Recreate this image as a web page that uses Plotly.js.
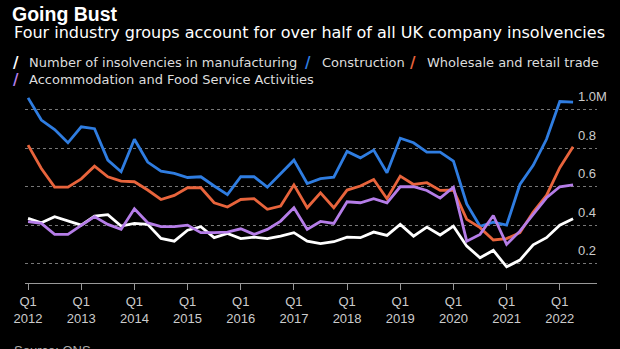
<!DOCTYPE html>
<html>
<head>
<meta charset="utf-8">
<script src="https://cdn.plot.ly/plotly-3.0.1.min.js"></script>
<style>html,body{margin:0;padding:0;background:#000;}#chart{width:620px;height:349px;}</style>
</head>
<body>
<div id="chart"></div>
<script>
const years = [2012,2013,2014,2015,2016,2017,2018,2019,2020,2021,2022];
const quarters = [];
years.forEach(y => ['Q1','Q2','Q3','Q4'].forEach(q => quarters.push(y + ' ' + q)));
quarters.splice(42); // 2012 Q1 .. 2022 Q2

const manufacturing = [0.435,0.412,0.444,0.421,0.400,0.447,0.454,0.395,0.409,0.404,0.331,
  0.317,0.374,0.392,0.335,0.357,0.330,0.338,0.330,0.343,0.361,0.317,
  0.304,0.314,0.338,0.335,0.364,0.347,0.404,0.343,0.390,0.349,0.395,
  0.291,0.231,0.269,0.184,0.219,0.298,0.335,0.400,0.433];
const construction = [1.060,0.945,0.896,0.827,0.910,0.900,0.737,0.677,0.845,0.727,0.680,
  0.668,0.647,0.651,0.603,0.558,0.651,0.651,0.597,0.667,0.737,0.616,
  0.641,0.649,0.782,0.749,0.789,0.672,0.851,0.827,0.779,0.779,0.732,
  0.510,0.394,0.415,0.400,0.611,0.710,0.845,1.041,1.038];
const wholesale = [0.815,0.694,0.597,0.597,0.640,0.706,0.651,0.628,0.625,0.582,0.533,
  0.554,0.594,0.594,0.516,0.494,0.533,0.537,0.482,0.499,0.609,0.490,
  0.568,0.490,0.582,0.603,0.637,0.537,0.654,0.611,0.620,0.580,0.582,
  0.430,0.387,0.323,0.330,0.361,0.468,0.554,0.698,0.806];
const accommodation = [0.418,0.409,0.352,0.352,0.399,0.444,0.404,0.378,0.485,0.412,0.392,
  0.392,0.400,0.361,0.361,0.364,0.381,0.352,0.378,0.421,0.490,0.378,
  0.419,0.409,0.521,0.516,0.537,0.516,0.599,0.599,0.580,0.540,0.597,
  0.317,0.352,0.450,0.300,0.369,0.456,0.542,0.599,0.609];

const seriesNames = ['Number of insolvencies in manufacturing','Construction','Wholesale and retail trade','Accommodation and Food Service Activities'];
const seriesColors = ['#ffffff','#2f7de1','#e8643c','#b57de8'];
const seriesValues = [manufacturing, construction, wholesale, accommodation];

const yTickVals = [0.2,0.4,0.6,0.8,1.0];
const yTickText = ['0.2','0.4','0.6','0.8','1.0M'];
const xTickVals = quarters.filter(q => q.endsWith('Q1'));
const xTickText = xTickVals.map(q => 'Q1<br>' + q.slice(0,4));

const traces = seriesValues.map((vals, k) => ({
  type: 'scatter', mode: 'lines', x: quarters, y: vals, name: seriesNames[k],
  line: {color: seriesColors[k], width: 2.8}, showlegend: false, hoverinfo: 'skip'
}));

// pixel helpers for text placement
const L = 25, R = 597, T = 94.4, B = 283;
const px = p => (p - L) / (R - L);
const py = p => (B - p) / (B - T);

const font = 'Liberation Sans, Arial, sans-serif';
const dv = 'DejaVu Sans, sans-serif';
const legendPos = [[16, 27, 63], [308, 320, 63], [413, 425, 63], [16, 27, 80]];
const legendAnn = [];
legendPos.forEach((p, k) => {
  legendAnn.push({text: '<b>/</b>', x: px(p[0]), y: py(p[2]), xanchor: 'center', yanchor: 'middle', font: {family: dv, size: 15, color: seriesColors[k]}});
  legendAnn.push({text: seriesNames[k], x: px(p[1]), y: py(p[2]), xanchor: 'left', yanchor: 'middle', font: {family: dv, size: 13, color: '#dddddd'}});
});
const annotations = [
  {text: 'Four industry groups account for over half of all UK company insolvencies', x: px(12), y: py(33), xanchor: 'left', yanchor: 'middle', font: {family: dv, size: 16, color: '#ffffff'}},
  ...legendAnn,
  {text: 'Source: ONS', x: px(12), y: py(341), xanchor: 'left', yanchor: 'top', font: {family: font, size: 13, color: '#aaaaaa'}},
  {text: '<b>Bloomberg</b>', x: px(540), y: py(344), xanchor: 'left', yanchor: 'top', font: {family: font, size: 15, color: '#ffffff'}}
].map(a => Object.assign({xref: 'paper', yref: 'paper', showarrow: false}, a));

const layout = {
  width: 620, height: 349,
  paper_bgcolor: '#000000', plot_bgcolor: '#000000',
  margin: {l: L, r: 620 - R, t: T, b: 349 - B, pad: 0},
  title: {text: '<b>Going Bust</b>', xref: 'container', yref: 'container', x: 12/620, xanchor: 'left', y: 1 - 14/349, yanchor: 'middle', font: {family: font, size: 19.5, color: '#ffffff'}},
  showlegend: false,
  xaxis: {
    type: 'category', range: [-0.23, 42.8],
    tickmode: 'array', tickvals: xTickVals, ticktext: xTickText,
    ticks: 'outside', ticklen: 6, tickcolor: '#999999', tickwidth: 1,
    showline: true, linecolor: '#999999', linewidth: 1,
    showgrid: false, zeroline: false,
    tickfont: {family: font, size: 13, color: '#cccccc'}
  },
  yaxis: {
    range: [0.1, 1.08], side: 'right',
    tickmode: 'array', tickvals: yTickVals, ticktext: yTickText,
    ticks: '', showline: false, zeroline: false,
    showgrid: true, gridcolor: '#777777', gridwidth: 1, griddash: 'dot',
    ticklabelposition: 'outside', ticklabelstandoff: -20, ticklabelshift: -13,
    tickfont: {family: font, size: 13, color: '#cccccc'}
  },
  annotations: annotations
};

Plotly.newPlot('chart', traces, layout, {displayModeBar: false, staticPlot: true});
</script>
</body>
</html>
